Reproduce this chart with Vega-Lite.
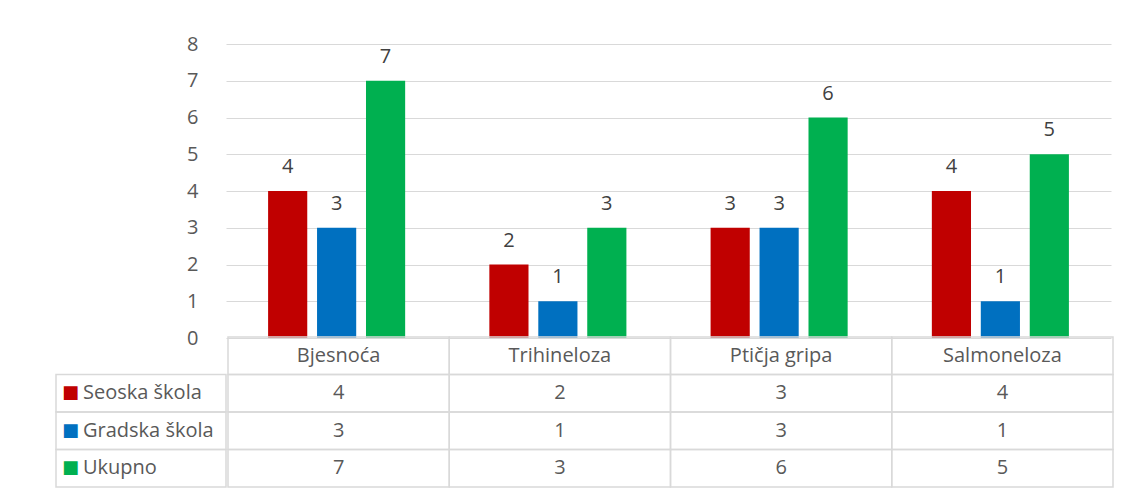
{
  "$schema": "https://vega.github.io/schema/vega-lite/v6.json",
  "padding": {"left": 55, "top": 34, "right": 10, "bottom": 5},
  "spacing": -12,
  "align": "none",
  "config": {
    "view": {"stroke": null},
    "font": "Open Sans",
    "concat": {"spacing": 0}
  },
  "data": {
    "values": [
      {"category": "Bjesnoća", "series": "Seoska škola", "value": 4},
      {"category": "Bjesnoća", "series": "Gradska škola", "value": 3},
      {"category": "Bjesnoća", "series": "Ukupno", "value": 7},
      {"category": "Trihineloza", "series": "Seoska škola", "value": 2},
      {"category": "Trihineloza", "series": "Gradska škola", "value": 1},
      {"category": "Trihineloza", "series": "Ukupno", "value": 3},
      {"category": "Ptičja gripa", "series": "Seoska škola", "value": 3},
      {"category": "Ptičja gripa", "series": "Gradska škola", "value": 3},
      {"category": "Ptičja gripa", "series": "Ukupno", "value": 6},
      {"category": "Salmoneloza", "series": "Seoska škola", "value": 4},
      {"category": "Salmoneloza", "series": "Gradska škola", "value": 1},
      {"category": "Salmoneloza", "series": "Ukupno", "value": 5}
    ]
  },
  "vconcat": [
    {
      "hconcat": [
        {
          "width": 110,
          "height": 294,
          "mark": {"type": "rect", "opacity": 0},
          "encoding": {}
        },
        {
          "width": 885,
          "height": 294,
          "encoding": {
            "x": {"field": "category", "type": "nominal", "sort": ["Bjesnoća", "Trihineloza", "Ptičja gripa", "Salmoneloza"], "scale": {"paddingInner": 0, "paddingOuter": 0}, "axis": null},
            "xOffset": {"field": "series", "type": "nominal", "sort": ["Seoska škola", "Gradska škola", "Ukupno"], "scale": {"paddingInner": 0.2, "paddingOuter": 0.86}},
            "y": {"field": "value", "type": "quantitative", "scale": {"domain": [0, 8]},
              "axis": {"values": [0, 1, 2, 3, 4, 5, 6, 7, 8], "grid": true, "gridColor": "#d9d9d9", "gridWidth": 1, "domain": false, "ticks": false, "labelPadding": 28, "labelFontSize": 20, "labelColor": "#595959", "labelFont": "Open Sans", "title": null, "minExtent": 60, "maxExtent": 60}}
          },
          "layer": [
            {
              "mark": {"type": "bar"},
              "encoding": {
                "color": {"field": "series", "type": "nominal", "scale": {"domain": ["Seoska škola", "Gradska škola", "Ukupno"], "range": ["#C00000", "#0070C0", "#00B050"]}, "legend": null}
              }
            },
            {
              "mark": {"type": "text", "baseline": "alphabetic", "dy": -18, "fontSize": 20, "color": "#404040"},
              "encoding": {"text": {"field": "value", "type": "quantitative"}}
            }
          ]
        }
      ]
    },
    {
      "hconcat": [
        {
          "width": 170,
          "height": 150,
          "transform": [{"filter": "datum.category === 'Bjesnoća'"}],
          "encoding": {
            "x": {"datum": "a", "type": "nominal", "scale": {"paddingInner": 0, "paddingOuter": 0}, "axis": null},
            "y": {"field": "series", "type": "nominal", "scale": {"domain": ["h", "Seoska škola", "Gradska škola", "Ukupno"], "paddingInner": 0, "paddingOuter": 0}, "axis": null}
          },
          "layer": [
            {"mark": {"type": "rect", "filled": false, "stroke": "#d9d9d9", "strokeWidth": 1.5}},
            {
              "mark": {"type": "text", "text": "■", "font": "DejaVu Sans", "fontSize": 18, "align": "left", "baseline": "middle", "dx": 6},
              "encoding": {
                "x": {"datum": "a", "type": "nominal", "bandPosition": 0},
                "color": {"field": "series", "type": "nominal", "scale": {"domain": ["Seoska škola", "Gradska škola", "Ukupno"], "range": ["#C00000", "#0070C0", "#00B050"]}, "legend": null}
              }
            },
            {
              "mark": {"type": "text", "align": "left", "baseline": "middle", "dx": 27, "fontSize": 20, "color": "#595959"},
              "encoding": {
                "x": {"datum": "a", "type": "nominal", "bandPosition": 0},
                "text": {"field": "series", "type": "nominal"}
              }
            }
          ]
        },
        {
          "width": 885,
          "height": 150,
          "encoding": {
            "x": {"field": "category", "type": "nominal", "sort": ["Bjesnoća", "Trihineloza", "Ptičja gripa", "Salmoneloza"], "scale": {"paddingInner": 0, "paddingOuter": 0}, "axis": null}
          },
          "layer": [
            {
              "mark": {"type": "rect", "filled": false, "stroke": "#d9d9d9", "strokeWidth": 1.5},
              "encoding": {
                "y": {"field": "series", "type": "nominal", "scale": {"domain": ["h", "Seoska škola", "Gradska škola", "Ukupno"], "paddingInner": 0, "paddingOuter": 0}, "axis": null}
              }
            },
            {
              "transform": [{"filter": "datum.series === 'Seoska škola'"}],
              "mark": {"type": "rect", "filled": false, "stroke": "#d9d9d9", "strokeWidth": 1.5},
              "encoding": {"y": {"datum": "h", "type": "nominal"}}
            },
            {
              "mark": {"type": "text", "baseline": "middle", "fontSize": 20, "color": "#595959"},
              "encoding": {
                "y": {"field": "series", "type": "nominal"},
                "text": {"field": "value", "type": "quantitative"}
              }
            },
            {
              "transform": [{"filter": "datum.series === 'Seoska škola'"}],
              "mark": {"type": "text", "baseline": "middle", "fontSize": 20, "color": "#595959"},
              "encoding": {
                "y": {"datum": "h", "type": "nominal"},
                "text": {"field": "category", "type": "nominal"}
              }
            }
          ]
        }
      ]
    }
  ]
}
